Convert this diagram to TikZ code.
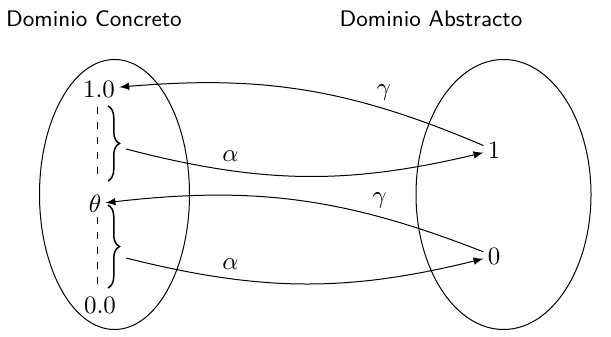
\documentclass[tikz,border=0pt]{standalone}
\usetikzlibrary{decorations.pathreplacing,shapes.geometric}
\begin{document}
\begin{tikzpicture}[x=0.4pt,y=-0.4pt,
  lbl/.style={font=\fontsize{9}{10}\selectfont\sffamily},
  pt/.style={inner sep=1.5pt},
  arr/.style={-latex,thin},
  brc/.style={decorate,decoration={brace,amplitude=4.6pt},semithick}]
\useasboundingbox (0,0) rectangle (611,337);
\node[lbl] (tc) at (94,19) {Dominio Concreto};
\node[lbl] (ta) at (431,19) {Dominio Abstracto};
\node[draw,ellipse,minimum width=150*0.4pt,minimum height=270*0.4pt,inner sep=0pt] (ec) at (114.5,194.5) {};
\node[draw,ellipse,minimum width=175*0.4pt,minimum height=270*0.4pt,inner sep=0pt] (ea) at (503.5,194.5) {};
\node[pt] (n10) at (99,89) {$1.0$};
\node[pt] (nth) at (95,204) {$\theta$};
\node[pt] (n00) at (100,305) {$0.0$};
\node[pt] (n1) at (494,150) {$1$};
\node[pt] (n0) at (494,256) {$0$};
\coordinate (d1) at (97.7,107);
\coordinate (d2) at (97.7,180);
\coordinate (d3) at (97.7,217);
\coordinate (d4) at (97.7,290);
\draw[dashed,thin] (d1) -- (d2);
\draw[dashed,thin] (d3) -- (d4);
\coordinate (b1s) at (108,106);
\coordinate (b1e) at (108,181);
\coordinate (b2s) at (108,205);
\coordinate (b2e) at (108,288);
\draw[brc] (b1s) -- (b1e);
\draw[brc] (b2s) -- (b2e);
\coordinate (t1) at (126,149);
\coordinate (t2) at (126,258);
\draw[arr] (t1) to[bend right=14] node[pos=0.28,above] {$\alpha$} (n1);
\draw[arr] (t2) to[bend right=14] node[pos=0.28,above] {$\alpha$} (n0);
\draw[arr] (n1) to[bend right=14] node[pos=0.27,above] {$\gamma$} (n10);
\draw[arr] (n0) to[bend right=14] node[pos=0.27,above] {$\gamma$} (nth);
\end{tikzpicture}
\end{document}
